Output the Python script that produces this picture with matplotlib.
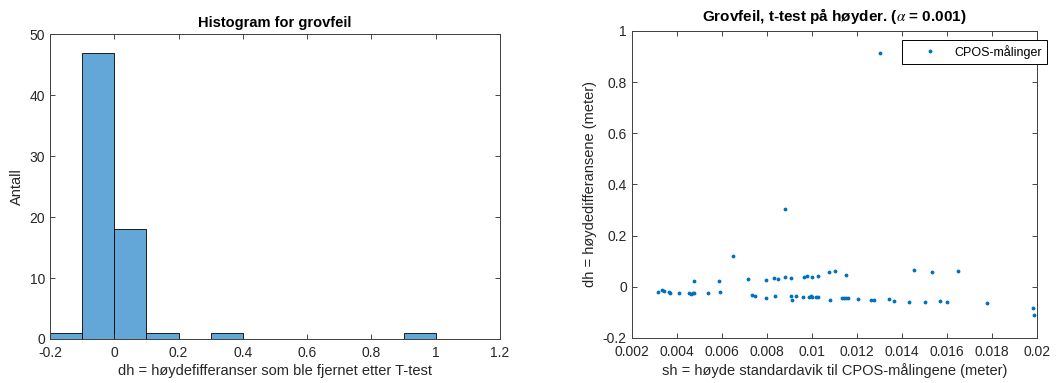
import numpy as np
import matplotlib
matplotlib.use("Agg")
import matplotlib.pyplot as plt
from matplotlib.ticker import FuncFormatter

plt.rcParams['font.family'] = ['Liberation Sans', 'DejaVu Sans']
plt.rcParams['mathtext.fontset'] = 'stix'

# histogram of dh (bin edges and counts)
hist_edges = [-0.2, -0.1, 0.0, 0.1, 0.2, 0.3, 0.4, 0.5, 0.6, 0.7, 0.8, 0.9, 1.0]
hist_counts = [1, 47, 18, 1, 0, 1, 0, 0, 0, 0, 0, 1]

# scatter: sh (standard deviation) vs dh (height difference)
sh = [0.00315, 0.00336, 0.00345, 0.00367, 0.00371, 0.00410, 0.00453, 0.00462,
      0.00471, 0.00478, 0.00478, 0.00539, 0.00586, 0.00593, 0.00651, 0.00718,
      0.00736, 0.00746, 0.00795, 0.00798, 0.00833, 0.00850, 0.00836, 0.00880,
      0.00883, 0.00906, 0.00907, 0.00914, 0.00928, 0.00959, 0.00965, 0.00980,
      0.00988, 0.00996, 0.01003, 0.01000, 0.01018, 0.01028, 0.01027, 0.01077,
      0.01083, 0.01104, 0.01133, 0.01144, 0.01154, 0.01162, 0.01153, 0.01207,
      0.01264, 0.01275, 0.01305, 0.01342, 0.01366, 0.01431, 0.01456, 0.01502,
      0.01534, 0.01568, 0.01602, 0.01651, 0.01777, 0.01983, 0.01986]
dh = [-0.021, -0.014, -0.018, -0.021, -0.025, -0.023, -0.025, -0.027,
      -0.024, -0.025, 0.021, -0.026, 0.021, -0.022, 0.121, 0.031,
      -0.033, -0.035, 0.027, -0.043, 0.034, 0.031, -0.035, 0.038,
      0.304, 0.036, -0.035, -0.052, -0.034, -0.040, 0.039, 0.044,
      -0.038, -0.037, -0.038, 0.040, -0.038, -0.039, 0.043, 0.057,
      -0.052, 0.062, -0.044, -0.043, -0.044, -0.044, 0.047, -0.048,
      -0.053, -0.051, 0.915, -0.049, -0.055, -0.060, 0.064, -0.060,
      0.059, -0.057, -0.060, 0.060, -0.065, -0.082, -0.111]

axcol = '#262626'
fig = plt.figure(figsize=(10.62, 3.83), dpi=100)

# left: histogram
ax1 = fig.add_axes([0.0471, 0.1149, 0.4237, 0.7955])
ax1.bar(hist_edges[:-1], hist_counts, width=np.diff(hist_edges), align='edge',
        color='#62a7d7', edgecolor='black', linewidth=0.6)
ax1.set_xlim(-0.2, 1.2)
ax1.set_ylim(0, 50)
ax1.set_xticks(np.arange(-0.2, 1.21, 0.2))
ax1.set_yticks([0, 10, 20, 30, 40, 50])
ax1.set_title('Histogram for grovfeil', fontsize=10.5, fontweight='bold', pad=5)
ax1.set_xlabel('dh = høydefifferanser som ble fjernet etter T-test', fontsize=10.5, labelpad=3)
ax1.set_ylabel('Antall', fontsize=10.5, labelpad=4)

# right: scatter
ax2 = fig.add_axes([0.5948, 0.1175, 0.3816, 0.8016])
ax2.plot(sh, dh, '.', color='#0072bd', markersize=3.5, label='CPOS-målinger')
ax2.set_xlim(0.002, 0.02)
ax2.set_ylim(-0.2, 1)
ax2.set_xticks(np.arange(0.002, 0.0201, 0.002))
ax2.set_yticks(np.arange(-0.2, 1.01, 0.2))
ax2.set_title(r'Grovfeil, t-test på høyder. ($\alpha$ = 0.001)', fontsize=11,
              fontweight='bold', pad=7)
ax2.set_xlabel('sh = høyde standardavik til CPOS-målingene (meter)', fontsize=10.5, labelpad=3)
ax2.set_ylabel('dh = høydedifferansene (meter)', fontsize=10.5, labelpad=4)
leg = ax2.legend(loc='upper right', bbox_to_anchor=(1.025, 0.971), fontsize=9,
                 fancybox=False, framealpha=1, edgecolor='black', borderpad=0.4,
                 handletextpad=0.1, markerscale=1.0, handlelength=3.7, borderaxespad=0)
leg.get_frame().set_linewidth(0.7)

fmt = FuncFormatter(lambda v, p: ('%g' % round(v, 6)))
for ax in (ax1, ax2):
    ax.xaxis.set_major_formatter(fmt)
    ax.yaxis.set_major_formatter(fmt)
    ax.tick_params(direction='in', top=True, right=True, length=3.5, width=0.6,
                   labelsize=10, colors=axcol, labelcolor=axcol)
    ax.tick_params(axis='x', pad=5)
    ax.xaxis.label.set_color(axcol)
    ax.yaxis.label.set_color(axcol)
    for s in ax.spines.values():
        s.set_color('#404040')
        s.set_linewidth(0.7)

fig.savefig('out.png', dpi=100)
